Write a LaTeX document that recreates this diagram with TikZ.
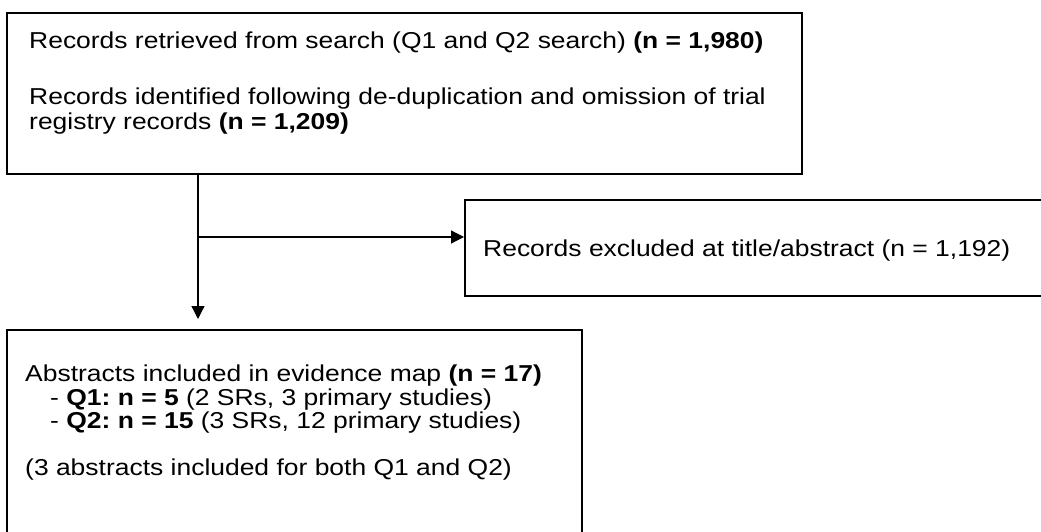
\documentclass[tikz,border=0pt]{standalone}
\usepackage{fontspec}
\setmainfont[FakeStretch=1.15]{Liberation Sans}
\usetikzlibrary{arrows.meta}
\frenchspacing
\begin{document}
\begin{tikzpicture}[x=1pt,y=-1pt,
  box/.style={draw=black,line width=2pt,rectangle,inner sep=0pt,anchor=north west},
  txt/.style={anchor=base west,inner sep=0pt,font=\fontsize{23}{24}\selectfont},
  conn/.style={line width=1.2pt,-{Triangle[length=13pt,width=13pt]}}]
\useasboundingbox (0,0) rectangle (1041,532);
\clip (0,0) rectangle (1041,532);
\node[box,minimum width=795pt,minimum height=161pt] (top) at (6,12) {};
\node[box,minimum width=600pt,minimum height=96pt] (excl) at (464,199) {};
\node[box,minimum width=575pt,minimum height=230pt] (bot) at (6,329) {};
\node[txt] (t1) at (29,49) {Records retrieved from search (Q1 and Q2 search) \textbf{(n = 1,980)}};
\node[txt] (t2) at (29,105) {Records identified following de-duplication and omission of trial};
\node[txt] (t3) at (29,129) {registry records \textbf{(n = 1,209)}};
\node[txt] (e1) at (483,256) {Records excluded at title/abstract (n = 1,192)};
\node[txt] (b1) at (25,381) {Abstracts included in evidence map \textbf{(n = 17)}};
\node[txt] (b2) at (50,405) {- \textbf{Q1: n = 5} (2 SRs, 3 primary studies)};
\node[txt] (b3) at (50,428) {- \textbf{Q2: n = 15} (3 SRs, 12 primary studies)};
\node[txt] (b4) at (25,475) {(3 abstracts included for both Q1 and Q2)};
\coordinate (br) at (198,237);
\draw[conn,shorten >=10pt] (top.south -| br) -- (bot.north -| br);
\draw[conn] (br) -- (br -| excl.west);
\end{tikzpicture}
\end{document}
